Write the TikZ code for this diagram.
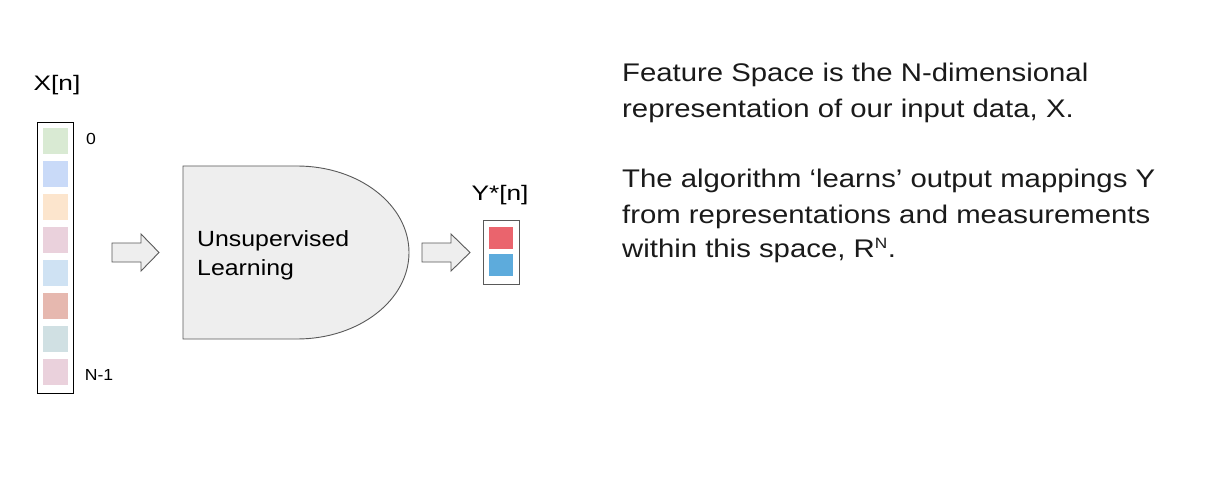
\documentclass[tikz,border=0pt]{standalone}
\usepackage{fontspec}
\setmainfont{Liberation Sans}
\usetikzlibrary{calc}
\definecolor{cA}{HTML}{D9EAD3}
\definecolor{cB}{HTML}{C9DAF8}
\definecolor{cC}{HTML}{FCE5CD}
\definecolor{cD}{HTML}{EAD1DC}
\definecolor{cE}{HTML}{CFE2F3}
\definecolor{cF}{HTML}{E6B8AF}
\definecolor{cG}{HTML}{D0E0E3}
\definecolor{cH}{HTML}{EAD1DC}
\definecolor{outred}{HTML}{EA646D}
\definecolor{outblue}{HTML}{5DABDC}
\definecolor{shapefill}{HTML}{EEEEEE}
\definecolor{shapeline}{HTML}{595959}
\definecolor{txt}{HTML}{1A1A1A}
\newcommand{\wide}[1]{\scalebox{1.15}[1]{#1}}
\tikzset{
  cell/.style={draw=none, minimum width=25pt, minimum height=26pt, inner sep=0pt, anchor=north west},
  blockarrow/.style={draw=shapeline, fill=shapefill, line width=0.9pt, line join=miter},
  lbl/.style={inner sep=0pt, font=\fontsize{21}{25}\selectfont, text=black},
  small/.style={inner sep=0pt, font=\fontsize{16}{18}\selectfont, text=black},
  para/.style={inner sep=0pt, anchor=base west, font=\fontsize{25.5}{30}\selectfont, text=txt},
}
\begin{document}
\begin{tikzpicture}[x=1pt,y=1pt]
\useasboundingbox[fill=white] (0,0) rectangle (1210,-497);
% input vector
\node[draw=black, line width=1pt, minimum width=36pt, minimum height=271pt, inner sep=0pt, anchor=north west] (xbox) at (37,-122) {};
\foreach \c [count=\i from 0] in {cA,cB,cC,cD,cE,cF,cG,cH}{
  \node[cell, fill=\c] (x\i) at (43,-128-33*\i) {};
}
\node[lbl] (xlab) at (57,-85) {\scalebox{1.25}[1]{X[n]}};
\node[small] (zero) at (91,-139) {\scalebox{1.1}[1]{0}};
\node[small] (nm1) at (99,-375) {\scalebox{1.1}[1]{N-1}};
% arrow 1
\draw[blockarrow] (112,-243) -- (141,-243) -- (141,-234) -- (159,-252.5) -- (141,-271) -- (141,-262) -- (112,-262) -- cycle;
% main shape
\draw[draw=shapeline, fill=shapefill, line width=0.9pt] (183,-166) coordinate (ml) -- (297,-166) arc[start angle=90, end angle=-90, x radius=112, y radius=86.5] -- (183,-339) -- cycle;
\node[inner sep=0pt, anchor=west, align=left, font=\fontsize{22}{29}\selectfont] (ul) at (197,-255) {\scalebox{1.13}[1]{Unsupervised}\\\scalebox{1.13}[1]{Learning}};
% arrow 2
\draw[blockarrow] (422,-243) -- (451,-243) -- (451,-234) -- (470,-252.5) -- (451,-271) -- (451,-262) -- (422,-262) -- cycle;
% output
\node[draw=shapeline, line width=1pt, minimum width=36pt, minimum height=64pt, inner sep=0pt, anchor=north west] (ybox) at (483,-220) {};
\node[draw=none, fill=outred, minimum width=24pt, minimum height=22pt, inner sep=0pt, anchor=north west] (y0) at (489,-227) {};
\node[draw=none, fill=outblue, minimum width=24pt, minimum height=22pt, inner sep=0pt, anchor=north west] (y1) at (489,-254) {};
\node[lbl] (ylab) at (500,-195) {\scalebox{1.25}[1]{Y*[n]}};
% paragraph
\node[para] (p1) at (622,-82) {\wide{Feature Space is the N-dimensional}};
\node[para] (p2) at (622,-118) {\wide{representation of our input data, X.}};
\node[para] (p3) at (622,-188) {\wide{The algorithm ‘learns’ output mappings Y}};
\node[para] (p4) at (622,-223) {\wide{from representations and measurements}};
\node[para] (p5) at (622,-258) {\wide{within this space, R\textsuperscript{\fontsize{15}{15}\selectfont N}.}};
\end{tikzpicture}
\end{document}
